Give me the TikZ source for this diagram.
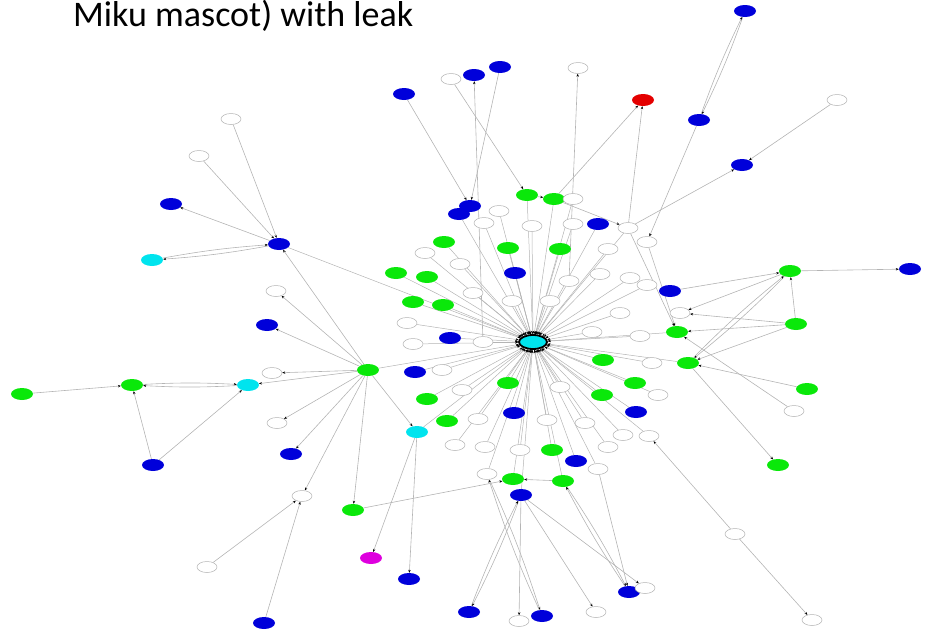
\documentclass[tikz,border=0pt]{standalone}
\usepackage{fontspec}
\setmainfont{Carlito}
\usetikzlibrary{shapes.geometric,arrows.meta}
\definecolor{ngreen}{RGB}{10,232,10}
\definecolor{nblue}{RGB}{0,0,218}
\definecolor{ncyan}{RGB}{0,228,238}
\definecolor{nred}{RGB}{228,0,0}
\definecolor{nmag}{RGB}{222,0,222}
\definecolor{eline}{RGB}{180,180,180}
\pgfdeclarelayer{bg}
\pgfsetlayers{bg,main}
\tikzset{
  nd/.style={ellipse,minimum width=22pt,minimum height=12pt,inner sep=0pt},
  gnode/.style={nd,fill=ngreen},
  bnode/.style={nd,fill=nblue},
  cnode/.style={nd,fill=ncyan},
  rnode/.style={nd,fill=nred},
  mnode/.style={nd,fill=nmag},
  wnode/.style={nd,minimum width=20pt,minimum height=11pt,fill=white,draw=black!30,line width=0.5pt},
  hubnode/.style={nd,minimum width=28pt,minimum height=14pt,fill=ncyan,draw=black,line width=1.8pt},
  edge/.style={draw=eline,line width=0.6pt,-{Stealth[length=3pt,width=2.4pt,color=black]}},
  spoke/.style={draw=eline,line width=0.5pt,-{Stealth[length=3pt,width=2.4pt,color=black]}},
  ttl/.style={font=\fontsize{36}{42}\selectfont,anchor=base west,inner sep=0pt}
}
\begin{document}
\begin{tikzpicture}[x=1pt,y=-1pt]
\useasboundingbox (0,0) rectangle (927,632);
\node[ttl] (title) at (73,26) {Miku mascot) with leak};
\node[hubnode] (h) at (533,342) {};
\foreach \n/\x/\y in {b1/745/11,b2/699/120,b3/742/165,b4/474/75,b5/500/67,b6/404/94,b7/470/206,b8/459/214,b9/598/224,b10/171/204,b11/279/244,b12/515/273,b13/670/291,b14/910/269,b15/267/325,b16/450/338,b17/415/372,b18/514/413,b19/636/412,b20/576/461,b21/521/495,b22/291/454,b23/153/465,b24/409/579,b25/264/623,b26/469/612,b27/542/616,b28/629/592}
  \node[bnode] (\n) at (\x,\y) {};
\node[rnode] (r1) at (643,100) {};
\node[mnode] (m1) at (371,558) {};
\node[cnode] (c1) at (152,260) {};
\node[cnode] (c2) at (248,385) {};
\node[cnode] (c3) at (417,432) {};
\foreach \n/\x/\y in {g1/527/195,g2/554/199,g3/444/242,g4/508/248,g5/560/249,g6/396/273,g7/427/277,g8/413/302,g9/443/305,g10/368/370,g11/132/385,g12/22/394,g13/790/271,g14/796/324,g15/677/332,g16/688/363,g17/807/389,g18/603/360,g19/635/383,g20/602/395,g21/508/383,g22/427/399,g23/447/421,g24/552/450,g25/513/479,g26/563/481,g27/353/510,g28/778/465}
  \node[gnode] (\n) at (\x,\y) {};
\foreach \n/\x/\y in {w1/578/68,w2/451/79,w3/837/100,w4/231/119,w5/199/156,w6/573/199,w7/499/211,w8/484/223,w9/532/226,w10/573/224,w11/628/228,w12/647/242,w13/425/253,w14/608/249,w15/276/291,w16/460/264,w17/569/281,w18/600/274,w19/630/278,w20/647/285,w21/473/293,w22/512/301,w23/550/301,w24/620/313,w25/680/313,w26/592/332,w27/640/336,w28/652/363,w29/483/342,w30/407/323,w31/413/344,w32/442/370,w33/272/373,w34/462/390,w35/560/387,w36/658/395,w37/794/411,w38/478/419,w39/547/420,w40/585/423,w41/623/435,w42/649/436,w43/455/445,w44/485/447,w45/520/450,w46/608/447,w47/598/469,w48/487/474,w49/277/423,w50/302/496,w51/735/534,w52/207/567,w53/519/621,w54/596/612,w55/645/588,w56/812/620}
  \node[wnode] (\n) at (\x,\y) {};
\begin{pgfonlayer}{bg}
\foreach \n in {w7,w8,w9,w10,b8,g1,g2,w6,b9,w11,g3,g4,g5,w14,w13,w16,b12,w17,w18,w19,w20,w21,w22,w23,w24,w26,w27,w28,g6,g7,g8,g9,w29,b16,w30,w31,b17,w32,g18,g19,g20,g21,w34,w35,w36,g22,g23,c3,w38,b18,w39,w40,w41,w42,w43,w44,w45,w46,g24,b20,w47,w48,g25,g26,b21,g10,b11,b19,g15,g16}
  \draw[spoke] (\n) -- (h);
\foreach \a/\b in {b2/w12,w3/b3,w11/b3,g2/r1,w11/r1,w11/g15,w12/g15,w2/g1,w29/b4,b5/b7,b6/b7,g1/g2,g2/w11,w17/w1,w4/b11,w5/b11,b11/b10,g10/b11,g10/w15,g10/b15,g10/w33,g10/c2,g10/w49,g10/b22,g10/w50,g10/g27,g10/c3,g12/g11,b23/g11,b23/c2,w52/w50,b25/w50,c3/m1,c3/b24,g27/g25,g26/g25,b21/w53,b21/w54,b21/w55,w47/b28,w51/w42,w51/w56,g13/b14,g14/g13,g14/g15,g14/w25,g13/w25,b13/g13,g17/g16,g14/g16,w37/g15,g16/g28}
  \draw[edge] (\a) -- (\b);
\foreach \a/\b in {b1/b2,b11/c1,g11/c2,b21/b26,w48/b27,g26/b28,g13/g16}
  {\draw[edge] (\a) to[bend left=3] (\b); \draw[edge] (\b) to[bend left=3] (\a);}
\end{pgfonlayer}
\end{tikzpicture}
\end{document}
